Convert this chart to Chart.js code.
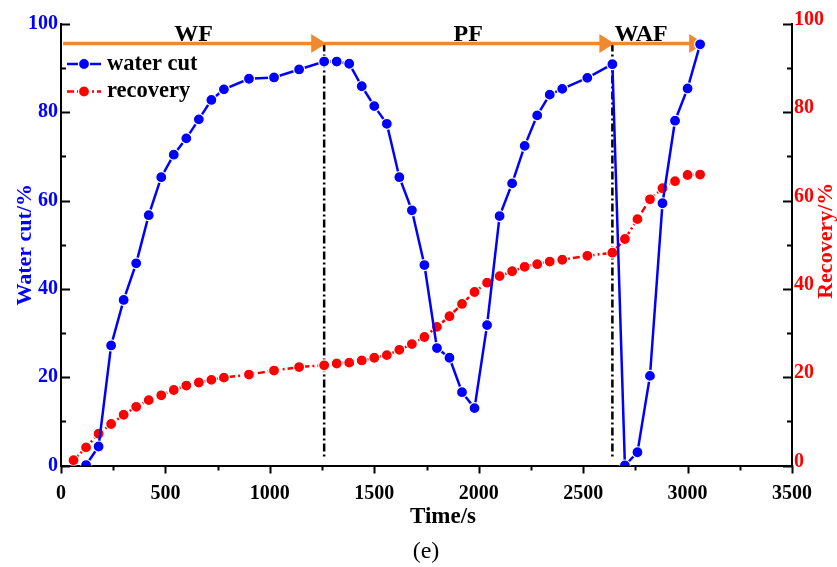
<!DOCTYPE html>
<html>
<head>
<meta charset="utf-8">
<script src="https://cdn.jsdelivr.net/npm/chart.js@4.4.0/dist/chart.umd.min.js"></script>
<style>
  html, body { margin: 0; padding: 0; background: #fff; }
</style>
</head>
<body>
<canvas id="myChart" width="837" height="567"></canvas>
<script>
// time (s) and water cut (%)
var timeWC = [120, 180, 240, 300, 360, 420, 480, 540, 600, 660, 720, 780, 900, 1020, 1140,
  1260, 1320, 1380, 1440, 1500, 1560, 1620, 1680, 1740, 1800, 1860, 1920, 1980, 2040, 2100,
  2160, 2220, 2280, 2340, 2400, 2520, 2640, 2700, 2760, 2820, 2880, 2940, 3000, 3060];
var waterCut = [0.1, 4.3, 27.2, 37.5, 45.8, 56.7, 65.3, 70.4, 74.1, 78.4, 82.8, 85.2, 87.6, 87.9, 89.7,
  91.5, 91.5, 91.0, 85.9, 81.4, 77.4, 65.3, 57.8, 45.4, 26.6, 24.4, 16.6, 13.0, 31.8, 56.5,
  63.9, 72.4, 79.3, 84.0, 85.3, 87.8, 90.9, 0, 3.0, 20.3, 59.4, 78.1, 85.4, 95.4];

// time (s) and recovery (%)
var timeRec = [60, 120, 180, 240, 300, 360, 420, 480, 540, 600, 660, 720, 780, 900, 1020, 1140,
  1260, 1320, 1380, 1440, 1500, 1560, 1620, 1680, 1740, 1800, 1860, 1920, 1980, 2040, 2100,
  2160, 2220, 2280, 2340, 2400, 2520, 2640, 2700, 2760, 2820, 2880, 2940, 3000, 3060];
var recovery = [1.2, 4.1, 7.2, 9.4, 11.5, 13.3, 14.8, 15.9, 17.1, 18.1, 18.8, 19.4, 19.9, 20.6, 21.5, 22.3,
  22.7, 23.1, 23.3, 23.8, 24.4, 25.0, 26.2, 27.5, 29.1, 31.4, 33.8, 36.6, 39.3, 41.4, 42.9,
  44.0, 45.0, 45.6, 46.2, 46.6, 47.5, 48.2, 51.3, 55.8, 60.3, 62.8, 64.4, 65.8, 65.9];

// flooding stages
var phaseNames = ['WF', 'PF', 'WAF'];
var phaseStart = [10, 1260, 2640];
var phaseEnd = [1260, 2640, 3070];
var arrowLevel = 95.6;

var serif = '"Liberation Serif", "DejaVu Serif", serif';
var BLUE = '#0000ff', RED = '#ff0000', ORANGE = '#f0892e';

function pairs(xs, ys) {
  return xs.map(function (x, i) { return { x: x, y: ys[i] }; });
}

// stage arrows, dash-dot boundaries, ticks, legend and titles
var decor = {
  id: 'decor',
  beforeDatasetsDraw: function (chart) {
    var ctx = chart.ctx, x = chart.scales.x, y = chart.scales.y;
    var yA = y.getPixelForValue(arrowLevel);
    ctx.save();
    // boundaries
    ctx.strokeStyle = '#000';
    ctx.lineWidth = 2.5;
    ctx.setLineDash([8, 3, 2, 3]);
    for (var i = 0; i < phaseEnd.length - 1; i++) {
      var bx = x.getPixelForValue(phaseEnd[i]);
      ctx.beginPath();
      ctx.moveTo(bx, yA);
      ctx.lineTo(bx, y.getPixelForValue(2));
      ctx.stroke();
    }
    ctx.setLineDash([]);
    // arrows
    ctx.strokeStyle = ORANGE;
    ctx.fillStyle = ORANGE;
    ctx.lineWidth = 3.5;
    for (var j = 0; j < phaseNames.length; j++) {
      var x0 = x.getPixelForValue(phaseStart[j]);
      var x1 = x.getPixelForValue(phaseEnd[j]);
      ctx.beginPath();
      ctx.moveTo(x0, yA);
      ctx.lineTo(x1 - 10, yA);
      ctx.stroke();
      ctx.beginPath();
      ctx.moveTo(x1 + 2, yA);
      ctx.lineTo(x1 - 13, yA - 9.5);
      ctx.lineTo(x1 - 13, yA + 9.5);
      ctx.closePath();
      ctx.fill();
    }
    // stage names
    ctx.fillStyle = '#000';
    ctx.font = 'bold 24px ' + serif;
    ctx.textBaseline = 'alphabetic';
    ctx.textAlign = 'center';
    for (var k = 0; k < phaseNames.length; k++) {
      var a = x.getPixelForValue(phaseStart[k]);
      var b = x.getPixelForValue(phaseEnd[k]);
      var w = ctx.measureText(phaseNames[k]).width;
      var cx = k === phaseNames.length - 1 ? a + 2 + w / 2 : (a + b) / 2;
      ctx.fillText(phaseNames[k], cx, 41);
    }
    ctx.restore();
  },
  afterDraw: function (chart) {
    var ctx = chart.ctx, x = chart.scales.x, y = chart.scales.y, area = chart.chartArea;
    ctx.save();
    ctx.strokeStyle = '#000';
    ctx.lineWidth = 2;
    ctx.beginPath();
    for (var t = 0; t <= 3500; t += 250) {
      var px = Math.round(x.getPixelForValue(t)) + 0.5;
      ctx.moveTo(px, area.bottom);
      ctx.lineTo(px, area.bottom + (t % 500 === 0 ? 8 : 5));
    }
    for (var v = 0; v <= 100; v += 10) {
      var py = Math.round(y.getPixelForValue(v)) + 0.5;
      var len = v % 20 === 0 ? 9 : 5;
      ctx.moveTo(area.left, py);
      ctx.lineTo(area.left + len, py);
      ctx.moveTo(area.right, py);
      ctx.lineTo(area.right - len, py);
    }
    ctx.stroke();

    // legend inside the plot
    chart.data.datasets.forEach(function (ds, i) {
      var ly = 64 + i * 27.5;
      ctx.strokeStyle = ds.borderColor;
      ctx.lineWidth = 2.5;
      ctx.setLineDash(ds.borderDash || []);
      ctx.beginPath();
      ctx.moveTo(67, ly);
      ctx.lineTo(101, ly);
      ctx.stroke();
      ctx.setLineDash([]);
      ctx.beginPath();
      ctx.arc(84, ly, ds.pointRadius, 0, Math.PI * 2);
      ctx.fillStyle = ds.backgroundColor;
      ctx.fill();
      ctx.lineWidth = ds.pointBorderWidth;
      ctx.strokeStyle = '#fff';
      ctx.stroke();
      ctx.fillStyle = '#000';
      ctx.font = 'bold 22.5px ' + serif;
      ctx.textAlign = 'left';
      ctx.textBaseline = 'middle';
      ctx.fillText(ds.label, 107, ly);
    });

    // right axis title reads bottom to top
    ctx.save();
    ctx.translate(826, (area.top + area.bottom) / 2 - 4);
    ctx.rotate(-Math.PI / 2);
    ctx.fillStyle = RED;
    ctx.font = 'bold 22px ' + serif;
    ctx.textAlign = 'center';
    ctx.textBaseline = 'middle';
    ctx.fillText('Recovery/%', 0, 0);
    ctx.restore();

    ctx.fillStyle = '#000';
    ctx.textAlign = 'center';
    ctx.textBaseline = 'middle';
    ctx.font = 'bold 23px ' + serif;
    ctx.fillText('Time/s', 443, 517);
    ctx.font = '24px ' + serif;
    ctx.fillText('(e)', 426, 552);
    ctx.restore();
  }
};

var ctx = document.getElementById('myChart').getContext('2d');
var myChart = new Chart(ctx, {
  type: 'line',
  data: {
    datasets: [
      {
        label: 'water cut',
        data: pairs(timeWC, waterCut),
        yAxisID: 'y',
        borderColor: BLUE,
        backgroundColor: BLUE,
        borderWidth: 2.5,
        pointRadius: 5.5,
        pointHoverRadius: 5.5,
        pointBackgroundColor: BLUE,
        pointBorderColor: '#fff',
        pointBorderWidth: 1.2,
        tension: 0
      },
      {
        label: 'recovery',
        data: pairs(timeRec, recovery),
        yAxisID: 'y1',
        borderColor: RED,
        backgroundColor: RED,
        borderWidth: 2.5,
        borderDash: [7, 3, 2, 3],
        pointRadius: 5.5,
        pointHoverRadius: 5.5,
        pointBackgroundColor: RED,
        pointBorderColor: '#fff',
        pointBorderWidth: 1.2,
        tension: 0
      }
    ]
  },
  options: {
    responsive: false,
    animation: false,
    layout: { padding: { top: 24, right: 0, bottom: 0, left: 0 } },
    scales: {
      x: {
        type: 'linear',
        min: 0,
        max: 3500,
        afterFit: function (s) { s.height = 101.5; },
        grid: { display: false, drawTicks: false },
        border: { display: true, color: '#000', width: 2 },
        ticks: {
          stepSize: 500,
          padding: 16,
          color: '#000',
          maxRotation: 0,
          callback: function (v) { return String(v); },
          font: { family: serif, size: 20, weight: 'bold' }
        }
      },
      y: {
        position: 'left',
        min: 0,
        max: 100,
        afterFit: function (s) { s.width = 61; },
        grid: { display: false, drawTicks: false },
        border: { display: true, color: '#000', width: 2 },
        ticks: {
          stepSize: 20,
          padding: 3,
          color: BLUE,
          font: { family: serif, size: 20, weight: 'bold' }
        },
        title: {
          display: true,
          text: 'Water cut/%',
          color: BLUE,
          padding: { top: 12, bottom: 0 },
          font: { family: serif, size: 22, weight: 'bold' }
        }
      },
      y1: {
        position: 'right',
        min: 0,
        max: 100,
        afterFit: function (s) { s.width = 45; },
        grid: { display: false, drawTicks: false },
        border: { display: true, color: '#000', width: 2 },
        ticks: {
          stepSize: 20,
          padding: 2,
          labelOffset: -4,
          color: RED,
          font: { family: serif, size: 20, weight: 'bold' }
        }
      }
    },
    plugins: {
      legend: { display: false },
      tooltip: { enabled: false }
    }
  },
  plugins: [decor]
});
</script>
</body>
</html>
